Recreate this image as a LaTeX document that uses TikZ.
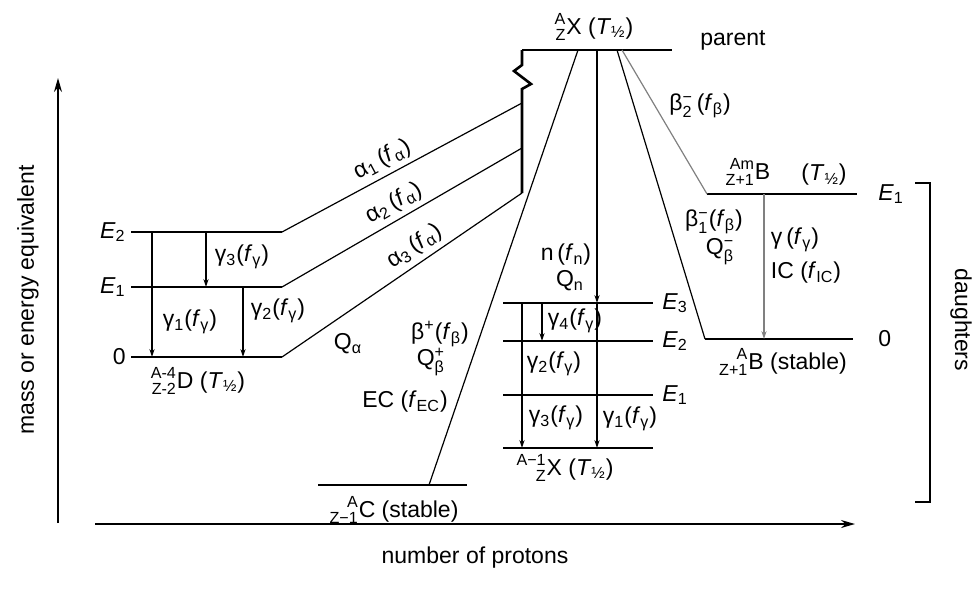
\documentclass[tikz,border=0pt]{standalone}
\usepackage{amsmath}
\usepackage{mathtools}
\usepackage{fontspec}
\setmainfont{Liberation Sans}
\usetikzlibrary{arrows.meta}

\newcommand{\fb}[1]{(\textit{f}\textsubscript{#1})}
\newcommand{\thalf}{(\textit{T}\textsubscript{½})}
\newcommand{\nuc}[3]{\ensuremath{\prescript{\text{#1}}{\text{#2}}{\text{#3}}}}
\newcommand{\supsub}[2]{\ensuremath{^{\text{#1}}_{\text{#2}}}}
\newcommand{\En}[1]{\textit{E}\textsubscript{#1}}

\tikzset{
	level/.style={line width=1.3pt},
	trans/.style={line width=0.6pt},
	gam/.style={trans,-{Stealth[length=4pt,width=2.6pt]}},
	axis/.style={line width=0.8pt,-{Stealth[length=7pt,width=4pt]}},
	txt/.style={inner sep=0.5pt,font=\fontsize{11.5}{13}\selectfont},
}

\begin{document}
\begin{tikzpicture}[x=0.5pt,y=-0.5pt,every node/.style={txt}]
	\useasboundingbox (0,0) rectangle (980,607);
	
	% axes
	\coordinate (yb) at (58,523); \coordinate (yt) at (58,78);
	\coordinate (xl) at (95,524); \coordinate (xr) at (855,524);
	\draw[axis] (yb) -- (yt);
	\draw[axis] (xl) -- (xr);
	\node[rotate=90] (ylab) at (28,300) {mass or energy equivalent};
	\node (xlab) at (475,558) {number of protons};
	
	% daughters bracket
	\coordinate (bt1) at (915,183); \coordinate (bt2) at (930,183);
	\coordinate (bb1) at (915,502); \coordinate (bb2) at (930,502);
	\draw[trans] (bt1) -- (bt2) -- (bb2) -- (bb1);
	\node[rotate=-90] (dau) at (961,320) {daughters};
	
	% parent
	\coordinate (Pl) at (522,50); \coordinate (Pr) at (672,50);
	\coordinate (Pv) at (522,193);
	\draw[level] (Pl) -- (Pr);
	\draw[level] (Pl) -- (522,65) -- (514,71) -- (531,84) -- (522,89) -- (Pv);
	\node (Plab) at (594,27) {\nuc{A}{Z}{X} \thalf};
	\node (par) at (733,40) {parent};
	
	% alpha daughter D
	\foreach \n/\y/\t in {2/232/\En{2}, 1/287/\En{1}, 0/357/0} {
		\coordinate (D\n l) at (131,\y); \coordinate (D\n r) at (282,\y);
		\draw[level] (D\n l) -- (D\n r);
		\node[left=2pt] (D\n t) at (D\n l) {\t};
	}
	\node (Dlab) at (198,381) {\nuc{A-4}{Z-2}{D} \thalf};
	\coordinate (g1a) at (152,232); \coordinate (g1b) at (152,357);
	\coordinate (g3a) at (206,232); \coordinate (g3b) at (206,287);
	\coordinate (g2a) at (243,287); \coordinate (g2b) at (243,357);
	\draw[gam] (g1a) -- (g1b);
	\draw[gam] (g3a) -- (g3b);
	\draw[gam] (g2a) -- (g2b);
	\node (g1t) at (190,322) {γ\textsubscript{1}\fb{γ}};
	\node (g3t) at (242,257) {γ\textsubscript{3}\fb{γ}};
	\node (g2t) at (278,311) {γ\textsubscript{2}\fb{γ}};
	
	\coordinate (a1e) at (522,103); \coordinate (a2e) at (522,148);
	\draw[trans] (D2r) -- (a1e) node[sloped,above=2pt,pos=0.45] (a1t) {α\textsubscript{1}\,\fb{α}};
	\draw[trans] (D1r) -- (a2e) node[sloped,above=2pt,pos=0.5] (a2t) {α\textsubscript{2}\,\fb{α}};
	\draw[trans] (D0r) -- (Pv) node[sloped,above=2pt,pos=0.59] (a3t) {α\textsubscript{3}\,\fb{α}};
	\node (Qa) at (348,344) {Q\textsubscript{α}};
	
	% beta+ / EC daughter C
	\coordinate (Cl) at (318,485); \coordinate (Cr) at (467,485);
	\coordinate (bp0) at (578,50); \coordinate (bp1) at (429,485);
	\draw[level] (Cl) -- (Cr);
	\draw[trans] (bp0) -- (bp1);
	\node (Clab) at (394,510) {\nuc{A}{Z−1}{C} (stable)};
	\node (bpt) at (440,334) {β\textsuperscript{+}\fb{β}};
	\node (Qbp) at (431,362) {Q\supsub{+}{β}};
	\node (ECt) at (405,402) {EC \fb{EC}};
	
	% neutron daughter X
	\foreach \n/\y in {3/303, 2/341, 1/395, 0/448} {
		\coordinate (M\n l) at (503,\y); \coordinate (M\n r) at (653,\y);
		\draw[level] (M\n l) -- (M\n r);
	}
	\foreach \n in {3,2,1}
		\node[right=4pt] (M\n t) at (M\n r) {\En{\n}};
	\node (Mlab) at (565,468) {\nuc{A−1}{Z}{X} \thalf};
	\coordinate (n0) at (597,50); \coordinate (n1) at (597,303); \coordinate (n2) at (597,448);
	\draw[gam] (n0) -- (n1);
	\draw[gam] (n1) -- (n2);
	\node (nt) at (566,255) {n\,\fb{n}};
	\node (Qn) at (570,281) {Q\textsubscript{n}};
	\coordinate (m3a) at (522,303); \coordinate (m3b) at (522,448);
	\coordinate (m4a) at (542,303); \coordinate (m4b) at (542,341);
	\draw[gam,line width=1pt] (m3a) -- (m3b);
	\draw[gam] (m4a) -- (m4b);
	\node (m4t) at (575,321) {γ\textsubscript{4}\fb{γ}};
	\node (m2t) at (554,364) {γ\textsubscript{2}\fb{γ}};
	\node (m3t) at (556,418) {γ\textsubscript{3}\fb{γ}};
	\node (m1t) at (630,419) {γ\textsubscript{1}\fb{γ}};
	
	% beta- daughter B
	\coordinate (Bml) at (707,194); \coordinate (Bmr) at (857,194);
	\coordinate (B0l) at (705,339); \coordinate (B0r) at (853,339);
	\draw[level] (Bml) -- (Bmr);
	\draw[level] (B0l) -- (B0r);
	\node[right=10pt] (BmE) at (Bmr) {\En{1}};
	\node[right=12pt] (B0E) at (B0r) {0};
	\coordinate (bm0) at (617,50); \coordinate (bm2) at (622,50);
	\draw[trans] (bm0) -- (B0l);
	\draw[trans,gray] (bm2) -- (Bml);
	\coordinate (ic0) at (764,194); \coordinate (ic1) at (764,339);
	\draw[gam,gray] (ic0) -- (ic1);
	\node (Bmlab) at (748,172) {\nuc{Am}{Z+1}{B}};
	\node (BmT) at (824,175) {\thalf};
	\node (B0lab) at (783,362) {\nuc{A}{Z+1}{B} (stable)};
	\node (bm2t) at (700,106) {β\supsub{−}{2}\,\fb{β}};
	\node (bm1t) at (714,222) {β\supsub{−}{1}\fb{β}};
	\node (Qbm) at (720,252) {Q\supsub{−}{β}};
	\node (gt) at (795,240) {γ\,\fb{γ}};
	\node (ICt) at (806,273) {IC \fb{IC}};
\end{tikzpicture}
\end{document}
